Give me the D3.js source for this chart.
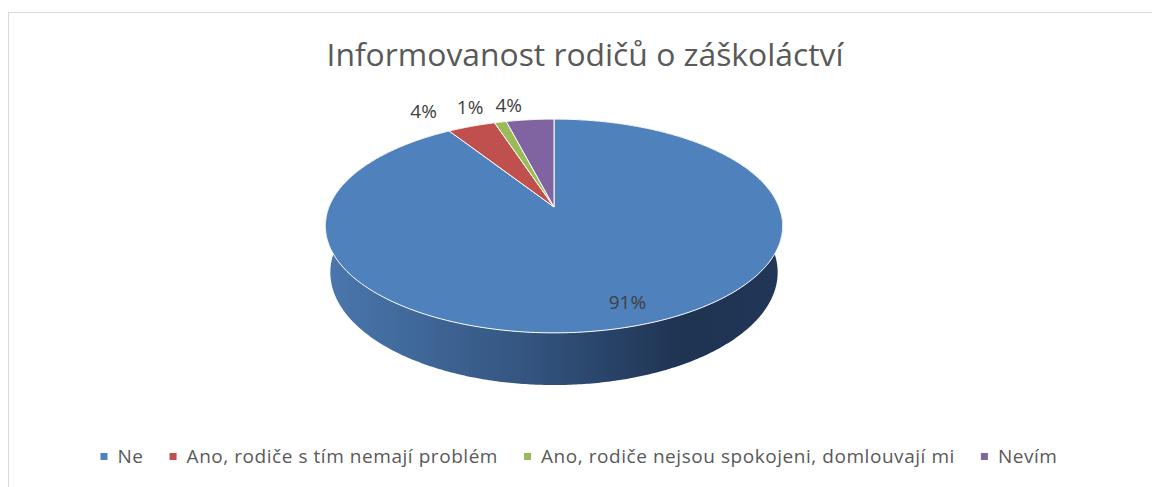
<!DOCTYPE html>
<html>
<head>
<meta charset="utf-8">
<script src="https://cdn.jsdelivr.net/npm/d3@7"></script>
<style>
  body { margin: 0; background: #fff; }
  svg { display: block; font-family: "Open Sans", "Liberation Sans", sans-serif; }
</style>
</head>
<body>
<svg id="chart" width="1152" height="487"></svg>
<script>
// data
const title = "Informovanost rodičů o záškoláctví"
const categories = ["Ne", "Ano, rodiče s tím nemají problém", "Ano, rodiče nejsou spokojeni, domlouvají mi", "Nevím"]
const values = [91, 4, 1, 4]
const colors = ["#4f81bd", "#c0504d", "#9bbb59", "#8064a2"]

const svg = d3.select("#chart")

// chart frame (right and bottom run off the picture)
svg.append("rect")
	.attr("x", 8.5).attr("y", 12.5)
	.attr("width", 1160).attr("height", 490)
	.attr("fill", "#fff").attr("stroke", "#d9d9d9")

// title
svg.append("text")
	.attr("x", 585).attr("y", 66)
	.attr("text-anchor", "middle")
	.attr("fill", "#595959")
	.style("font-size", "31px")
	.attr("textLength", 517).attr("lengthAdjust", "spacingAndGlyphs")
	.text(title)

// simple perspective projection of a unit disc, tilted toward the viewer
const cx = 554, cy = 207, K = 225
const persp = 0.2
const tilt = Math.asin(0.46)
const sinA = Math.sin(tilt), cosA = Math.cos(tilt)
const depth = 0.234

function project(X, Y, Z) {
	const d = 1 - persp * (Y * cosA + Z * sinA)
	return [cx + K * X / d, cy + K * (Y * sinA - Z * cosA) / d]
}
// angle measured clockwise from 12 o'clock, like d3.pie
function rim(a, r, Z) {
	return project(r * Math.sin(a), -r * Math.cos(a), Z)
}
function arcPoints(a0, a1, r, Z) {
	const n = Math.max(2, Math.ceil((a1 - a0) / 0.01))
	return d3.range(n + 1).map(i => rim(a0 + (a1 - a0) * i / n, r, Z))
}

const pie = d3.pie().sort(null).value(d => d)
const arcs = pie(values)
const line = d3.line()

// side wall gradient
const defs = svg.append("defs")
const grad = defs.append("linearGradient")
	.attr("id", "wall")
	.attr("gradientUnits", "userSpaceOnUse")
	.attr("x1", 326).attr("x2", 783).attr("y1", 0).attr("y2", 0)
grad.selectAll("stop")
	.data([[0, "#4a77ae"], [0.45, "#33547e"], [0.78, "#1f3352"], [1, "#213757"]])
	.enter().append("stop")
	.attr("offset", d => d[0])
	.attr("stop-color", d => d[1])

// walls first, the top faces cover the back part
svg.append("g").selectAll("path")
	.data(arcs)
	.enter().append("path")
	.attr("d", d => line(arcPoints(d.startAngle, d.endAngle, 1, 0)
		.concat(arcPoints(d.startAngle, d.endAngle, 1, -depth).reverse())) + "Z")
	.attr("fill", (d, i) => i === 0 ? "url(#wall)" : d3.color(colors[i]).darker(1.2))

// top faces
svg.append("g").selectAll("path")
	.data(arcs)
	.enter().append("path")
	.attr("d", d => line([project(0, 0, 0)].concat(arcPoints(d.startAngle, d.endAngle, 1, 0))) + "Z")
	.attr("fill", (d, i) => colors[i])
	.attr("stroke", "#fff")
	.attr("stroke-width", 1)
	.attr("stroke-linejoin", "round")

// data labels
const total = d3.sum(values)
const fmt = v => Math.round(v / total * 100) + "%"
const labels = svg.append("g")
	.attr("fill", "#404040")
	.style("font-size", "19px")

// big slice: inside
arcs.forEach(d => {
	if (d.value / total < 0.5) return
	const m = (d.startAngle + d.endAngle) / 2
	const p = rim(m, 0.85, 0)
	labels.append("text")
		.attr("x", p[0] + 11).attr("y", p[1] + 3)
		.attr("text-anchor", "middle")
		.text(fmt(d.value))
})

// small slices: outside, pushed left so they don't overlap
const small = arcs.filter(d => d.value / total < 0.5)
let nextRight = Infinity
small.slice().reverse().forEach((d, k) => {
	const m = (d.startAngle + d.endAngle) / 2
	const p = rim(m, 1, 0)
	const t = labels.append("text")
		.attr("text-anchor", "end")
		.attr("y", p[1] - 8)
		.text(fmt(d.value))
	const w = t.node().getComputedTextLength()
	const right = Math.min(p[0] - 8, nextRight)
	t.attr("x", right)
	nextRight = right - w - 12 - k * 8
})

// legend
const legend = svg.append("g")
	.attr("fill", "#595959")
	.style("font-size", "19px")
	.style("letter-spacing", "0.55px")
let lx = 0
categories.forEach((c, i) => {
	const g = legend.append("g").attr("transform", `translate(${lx},0)`)
	g.append("rect")
		.attr("x", 0).attr("y", -10)
		.attr("width", 7).attr("height", 7)
		.attr("fill", colors[i])
	const t = g.append("text").attr("x", 17).attr("y", 0).text(c)
	lx += 17 + t.node().getComputedTextLength() + 26
})
const legendWidth = lx - 26
legend.attr("transform", `translate(${579 - legendWidth / 2},463)`)
</script>
</body>
</html>
